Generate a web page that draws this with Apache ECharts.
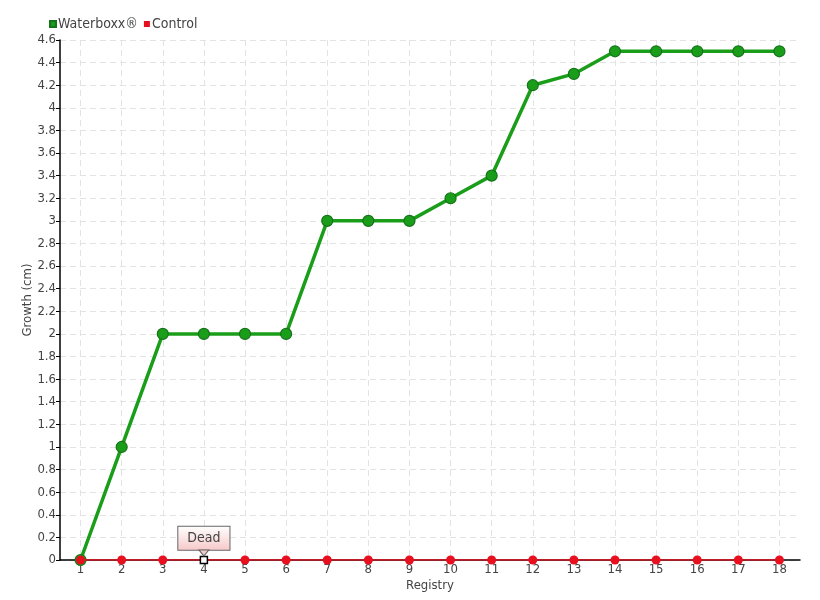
<!DOCTYPE html>
<html><head><meta charset="utf-8">
<script src="https://cdn.jsdelivr.net/npm/echarts@6/dist/echarts.min.js"></script>
<style>html,body{margin:0;padding:0;background:#fff}#c{width:820px;height:600px}</style>
</head><body><div id="c"></div>
<script>
const categories = ['1','2','3','4','5','6','7','8','9','10','11','12','13','14','15','16','17','18'];
const waterboxx = [0,1,2,2,2,2,3,3,3,3.2,3.4,4.2,4.3,4.5,4.5,4.5,4.5,4.5];
const control = [0,0,0,0,0,0,0,0,0,0,0,0,0,0,0,0,0,0];
const deadIndex = 3;
const deadLabel = 'Dead';

const FONT = '"DejaVu Sans Condensed", "Liberation Sans Narrow", sans-serif';
const controlData = control.map((v, i) => i === deadIndex ? {
  value: v,
  symbol: 'rect', symbolSize: 7,
  itemStyle: {color: '#fff', borderColor: '#000', borderWidth: 1.5},
  label: {
    show: true, formatter: deadLabel, position: 'top', distance: 6,
    color: '#444', fontFamily: FONT, fontSize: 14,
    padding: [5, 9, 4, 9], borderColor: '#666', borderWidth: 1,
    backgroundColor: {type: 'linear', x: 0, y: 0, x2: 0, y2: 1,
      colorStops: [{offset: 0, color: '#fff'}, {offset: 1, color: '#f6c8c8'}]}
  }
} : v);

const chart = echarts.init(document.getElementById('c'));
chart.setOption({
  animation: false,
  textStyle: {fontFamily: FONT},
  legend: {
    left: 44, top: 12, itemWidth: 6, itemHeight: 6, itemGap: 6,
    icon: 'rect',
    textStyle: {color: '#444', fontSize: 14, fontFamily: FONT, padding: [0, 0, 0, -3]},
    data: [{name: 'Waterboxx®', itemStyle: {color: '#1a9e1a'}}, {name: 'Control', itemStyle: {color: '#e8101e'}}]
  },
  grid: {left: 60, right: 20, top: 40, bottom: 40, outerBoundsMode: 'none', containLabel: false},
  xAxis: {
    type: 'category', data: categories,
    name: 'Registry', nameLocation: 'middle', nameGap: 19, nameMoveOverlap: false,
    nameTextStyle: {color: '#444', fontSize: 13, fontFamily: FONT},
    axisLine: {lineStyle: {color: '#000', width: 1.5}},
    axisTick: {alignWithLabel: true, length: 4, lineStyle: {color: '#000'}},
    axisLabel: {color: '#444', fontSize: 13, margin: 3, fontFamily: FONT},
    splitLine: {show: true, alignWithLabel: true, lineStyle: {color: '#e3e3e3', type: [6, 4]}}
  },
  yAxis: {
    type: 'value', min: 0, max: 4.6, interval: 0.2,
    name: 'Growth (cm)', nameLocation: 'middle', nameGap: 26, nameMoveOverlap: false,
    nameTextStyle: {color: '#444', fontSize: 13, fontFamily: FONT},
    axisLine: {show: true, lineStyle: {color: '#000', width: 1.5}},
    axisTick: {show: true, length: 4, inside: false, lineStyle: {color: '#000'}},
    axisLabel: {color: '#444', fontSize: 13, margin: 4, fontFamily: FONT,
      formatter: v => String(+v.toFixed(1))},
    splitLine: {show: true, lineStyle: {color: '#e3e3e3', type: [6, 4]}}
  },
  series: [
    {
      name: 'Waterboxx®', type: 'line', data: waterboxx,
      symbol: 'circle', symbolSize: 11,
      lineStyle: {color: '#1a9e1a', width: 3.5},
      itemStyle: {color: '#1a9e1a', borderColor: '#15741a', borderWidth: 1.2},
      z: 2
    },
    {
      name: 'Control', type: 'line', data: controlData,
      symbol: 'circle', symbolSize: 9,
      lineStyle: {color: '#e8101e', width: 1.5},
      itemStyle: {color: '#e8101e'},
      markPoint: {
        silent: true,
        label: {show: false},
        data: [{
          coord: [categories[deadIndex], control[deadIndex]],
          symbol: 'triangle', symbolRotate: 180, symbolSize: [10, 6], symbolOffset: [0, -7],
          itemStyle: {color: '#f6c8c8', borderColor: '#666', borderWidth: 1}
        }]
      },
      z: 3
    }
  ]
});
</script></body></html>
